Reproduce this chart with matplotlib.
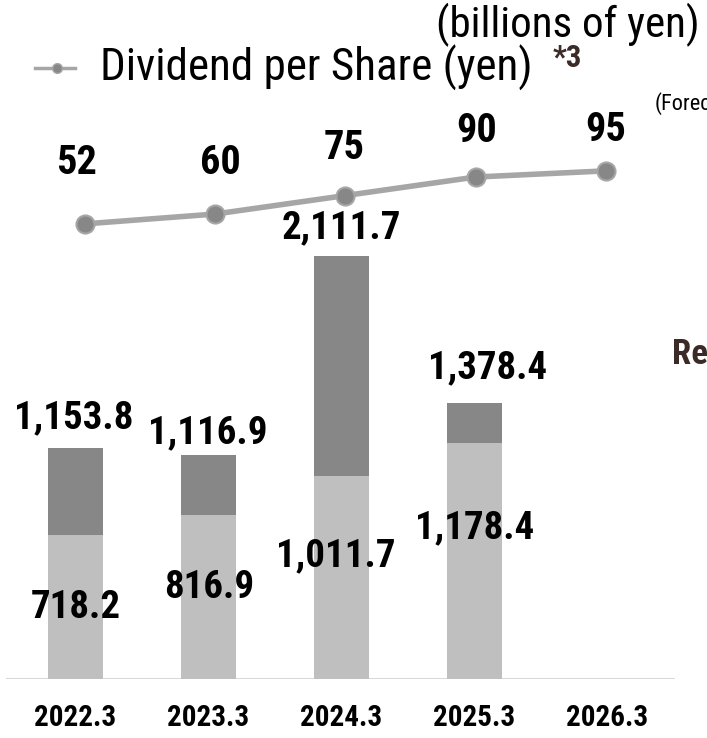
import matplotlib
matplotlib.use("Agg")
import matplotlib.pyplot as plt
from matplotlib import font_manager

# fiscal years and values (billions of yen / yen)
years = ["2022.3", "2023.3", "2024.3", "2025.3", "2026.3"]
base_vals = [718.2, 816.9, 1011.7, 1178.4]
total_vals = [1153.8, 1116.9, 2111.7, 1378.4]
dividend = [52, 60, 75, 90, 95]

names = {f.name for f in font_manager.fontManager.ttflist}
narrow = next((n for n in ["Liberation Sans Narrow", "Roboto Condensed", "PT Sans Narrow",
                           "Archivo Narrow"] if n in names), "DejaVu Sans")
plt.rcParams["font.family"] = [narrow, "DejaVu Sans"]
plt.rcParams["font.stretch"] = "condensed"

LIGHT = "#bfbfbf"
DARK = "#878787"
LINE = "#a6a6a6"
BROWN = "#3b2a25"

fig = plt.figure(figsize=(7.07, 7.38), dpi=100)
W, H = 707, 738
pos = [0, 59 / H, 1, 679 / H]

ax = fig.add_axes(pos)
ax.set_xlim(-75.5 / 133, (W - 75.5) / 133)
ax.set_ylim(0, 679 / 0.2002)
ax.axis("off")

x = list(range(len(base_vals)))
upper = [t - b for t, b in zip(total_vals, base_vals)]
ax.bar(x, base_vals, width=55 / 133, color=LIGHT, zorder=2)
ax.bar(x, upper, bottom=base_vals, width=55 / 133, color=DARK, zorder=2)
ax.axhline(0, xmin=7 / W, xmax=673 / W, color="#d4d4d4", lw=2, zorder=1)

# label offsets in pixels
top_dx = [-2, -1, 0, 13]
top_dy = [30, 23, 28, 35]
low_dx = [0, 1, -6, 0]
low_dy = [-72, -72, -79, -85]
for i in x:
    ax.annotate(f"{total_vals[i]:,.1f}", (i, total_vals[i]), xytext=(top_dx[i], top_dy[i]),
                textcoords="offset pixels", ha="center", va="center",
                fontsize=28, fontweight="bold", zorder=5)
    ax.annotate(f"{base_vals[i]:,.1f}", (i, base_vals[i]), xytext=(low_dx[i], low_dy[i]),
                textcoords="offset pixels", ha="center", va="center",
                fontsize=28, fontweight="bold", zorder=5)

for i, yr in enumerate(years):
    ax.text(i, -39 / 0.2002, yr, ha="center", va="center",
            fontsize=21, fontweight="bold", clip_on=False)

# dividend line on its own overlay axes
ax2 = fig.add_axes(pos)
ax2.set_xlim(-85 / 130.25, (W - 85) / 130.25)
ax2.set_ylim(-391 / 1.233, (679 - 391) / 1.233)
ax2.axis("off")
xd = list(range(len(dividend)))
ax2.plot(xd, dividend, color=LINE, lw=4, marker="o", markersize=13,
         markerfacecolor=DARK, markeredgecolor=LINE, markeredgewidth=1.5, zorder=4)
div_dx = [-8, 5, -1, 1, 0]
div_dy = [61, 51, 48, 46, 41]
for i in xd:
    ax2.annotate(str(dividend[i]), (i, dividend[i]), xytext=(div_dx[i], div_dy[i]),
                 textcoords="offset pixels", ha="center", va="center",
                 fontsize=29, fontweight="bold")

# legend and headings
fig.text(700 / W, 1 - 25 / H, "(billions of yen)", ha="right", va="center", fontsize=31)
fig.lines.append(plt.Line2D([35 / W, 75 / W], [1 - 68 / H, 1 - 68 / H], transform=fig.transFigure,
                            color=LINE, lw=2.5))
fig.lines.append(plt.Line2D([57 / W], [1 - 68 / H], transform=fig.transFigure, marker="o",
                            markersize=7, color=DARK, markeredgecolor=LINE))
fig.text(100 / W, 1 - 68 / H, "Dividend per Share (yen)", ha="left", va="center", fontsize=32.5)
fig.text(553 / W, 1 - 58 / H, "*3", ha="left", va="center", fontsize=22,
         fontweight="bold", color=BROWN)
fig.text(655 / W, 1 - 104 / H, "(Forecast)", ha="left", va="center", fontsize=16)
fig.text(672 / W, 1 - 355 / H, "Re", ha="left", va="center", fontsize=25,
         fontweight="bold", color=BROWN)

fig.savefig("out.png", dpi=100)
